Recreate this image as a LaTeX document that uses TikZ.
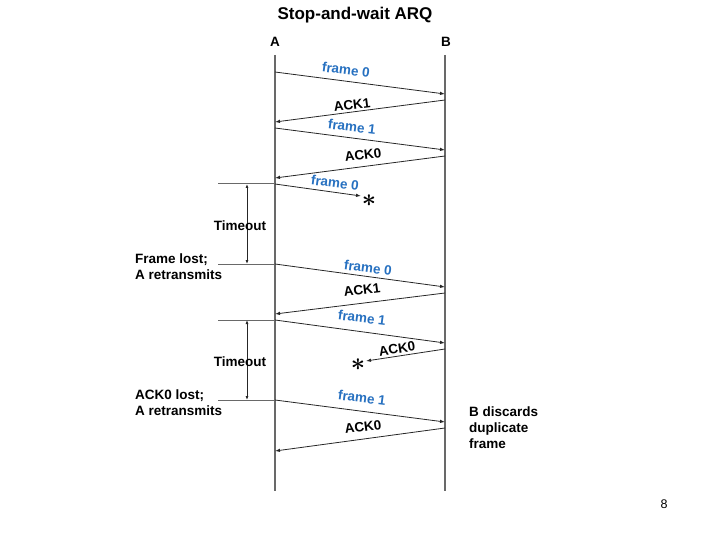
\documentclass[tikz,border=0pt]{standalone}
\usepackage{fontspec}
\setmainfont{Liberation Sans}
\usetikzlibrary{arrows.meta}

\definecolor{framecol}{RGB}{38,112,192}
\definecolor{linegray}{RGB}{105,105,105}

\begin{document}
\begin{tikzpicture}[x=1pt, y=-1pt,
    every node/.style={font=\fontsize{13.5}{16}\selectfont\bfseries, inner sep=0pt},
    life/.style={draw=linegray, line width=1.4pt},
    msg/.style={draw=black!85, line width=0.8pt, -{Latex[length=5pt,width=3.5pt]}},
    tmo/.style={draw=black!85, line width=0.8pt, {Latex[length=4pt,width=3pt]}-{Latex[length=4pt,width=3pt]}},
    flabel/.style={text=framecol, rotate=-7.4},
    alabel/.style={text=black, rotate=7.4},
    lost/.style={font=\fontsize{32}{32}\selectfont\boldmath, anchor=base}]
    \useasboundingbox (0,0) rectangle (720,540);

    % 1. title and the two stations
    \node[anchor=base, font=\fontsize{17}{20}\selectfont\bfseries] (title) at (355,20) {Stop-and-wait ARQ};
    \node[anchor=base] (A) at (275,47) {A};
    \node[anchor=base] (B) at (446,47) {B};
    \coordinate (Atop) at (275,55);  \coordinate (Abot) at (275,491);
    \coordinate (Btop) at (445,55);  \coordinate (Bbot) at (445,491);
    \draw[life] (Atop) -- (Abot);
    \draw[life] (Btop) -- (Bbot);

    % 2. normal exchange
    \coordinate (a1) at (275,72);   \coordinate (b1) at (445,94);
    \coordinate (b2) at (445,100);  \coordinate (a2) at (275,122);
    \coordinate (a3) at (275,128);  \coordinate (b3) at (445,150);
    \coordinate (b4) at (445,156);  \coordinate (a4) at (275,178);
    \draw[msg] (a1) -- (b1);
    \node[flabel] (f1) at (346,70) {frame 0};
    \draw[msg] (b2) -- (a2);
    \node[alabel] (k1) at (352,105) {ACK1};
    \draw[msg] (a3) -- (b3);
    \node[flabel] (f2) at (352,127) {frame 1};
    \draw[msg] (b4) -- (a4);
    \node[alabel] (k2) at (363,155) {ACK0};

    % 3. frame 0 is lost, timeout, retransmit
    \coordinate (a5) at (275,184);  \coordinate (lost0) at (361,196);
    \draw[msg] (a5) -- (lost0);
    \node[flabel] (f3) at (335,183) {frame 0};
    \node[lost] (star1) at (369,207) {$\ast$};

    \coordinate (h1) at (218,184);  \coordinate (h2) at (218,264);
    \coordinate (a6) at (275,264);
    \draw[life, line width=1pt] (h1) -- (a5);
    \draw[life, line width=1pt] (h2) -- (a6);
    \coordinate (t1) at (247,184);  \coordinate (t2) at (247,264);
    \draw[tmo] (t1) -- (t2);
    \node[anchor=base] (to1) at (240,230) {Timeout};
    \node[anchor=north west, align=left] (note1) at (135,254) {Frame lost;\\A retransmits};

    \coordinate (b6) at (445,287);
    \coordinate (b7) at (445,293);  \coordinate (a7) at (275,314);
    \draw[msg] (a6) -- (b6);
    \node[flabel] (f4) at (368,268) {frame 0};
    \draw[msg] (b7) -- (a7);
    \node[alabel] (k3) at (362,290) {ACK1};

    % 4. ACK0 is lost, timeout, duplicate frame
    \coordinate (a8) at (275,320);  \coordinate (b8) at (445,343);
    \draw[msg] (a8) -- (b8);
    \node[flabel] (f5) at (362,318) {frame 1};
    \coordinate (b9) at (445,349);  \coordinate (lost1) at (366,361);
    \draw[msg] (b9) -- (lost1);
    \node[alabel, rotate=1.6] (k4) at (397,349) {ACK0};
    \node[lost] (star2) at (358,370) {$\ast$};

    \coordinate (h3) at (218,320);  \coordinate (h4) at (218,400);
    \coordinate (a10) at (275,400);
    \draw[life, line width=1pt] (h3) -- (a8);
    \draw[life, line width=1pt] (h4) -- (a10);
    \coordinate (t3) at (247,320);  \coordinate (t4) at (247,400);
    \draw[tmo] (t3) -- (t4);
    \node[anchor=base] (to2) at (240,366) {Timeout};
    \node[anchor=north west, align=left] (note2) at (135,390) {ACK0 lost;\\A retransmits};

    \coordinate (b10) at (445,422);
    \coordinate (b11) at (445,428); \coordinate (a11) at (275,451);
    \draw[msg] (a10) -- (b10);
    \node[flabel] (f6) at (362,398) {frame 1};
    \draw[msg] (b11) -- (a11);
    \node[alabel] (k5) at (363,427) {ACK0};
    \node[anchor=north west, align=left] (note3) at (469,407) {B discards\\duplicate\\frame};

    % 5. page number
    \node[anchor=base, font=\fontsize{12.5}{15}\selectfont] (page) at (664,508) {8};
\end{tikzpicture}
\end{document}
